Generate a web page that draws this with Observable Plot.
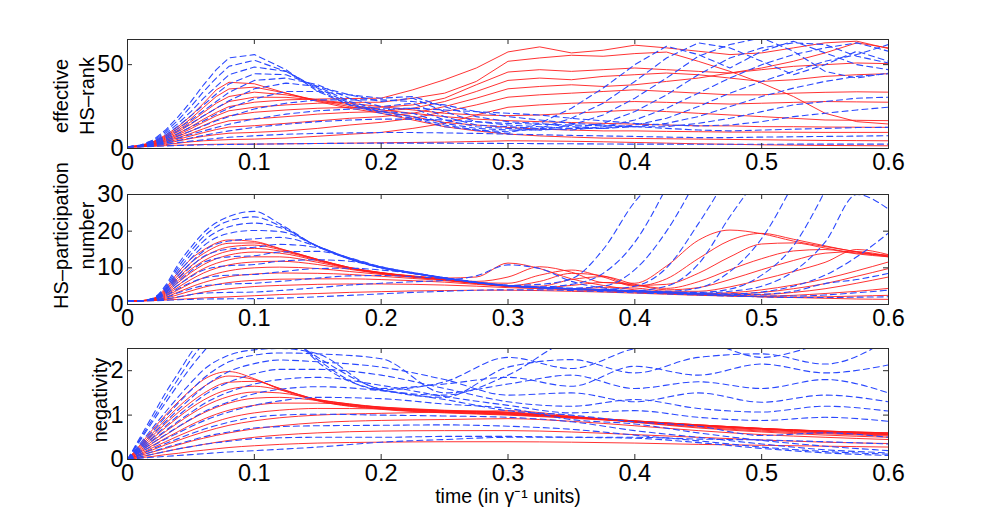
<!DOCTYPE html>
<html>
<head>
<meta charset="utf-8">
<script src="https://cdn.jsdelivr.net/npm/d3@7"></script>
<script src="https://cdn.jsdelivr.net/npm/@observablehq/plot@0.6"></script>
<style>
  body { margin: 0; background: #fff; }
  #fig { position: relative; width: 981px; height: 517px; }
  #fig > div { position: absolute; left: 0; }
  /* tick labels are drawn larger than the axis titles, as in the original */
  #fig svg g[aria-label="x-axis tick label"],
  #fig svg g[aria-label="y-axis tick label"],
  #fig svg g[aria-label="x-axis tick label"] text,
  #fig svg g[aria-label="y-axis tick label"] text { font-size: 23.5px !important; }
</style>
</head>
<body>
<div id="fig">
  <div id="rank" style="top:0px"></div>
  <div id="part" style="top:180px"></div>
  <div id="neg" style="top:340px"></div>
</div>
<script>
// time samples (in 1/gamma units) for each panel
const tRank = [0, .01, .02, .03, .04, .05, .06, .07, .08, .1, .125, .15, .175, .2, .225, .25, .275, .3, .325, .35, .375, .4, .425, .45, .475, .5, .525, .55, .575, .6];
const tPart = [0, .01, .02, .03, .04, .05, .06, .08, .1, .12, .15, .175, .2, .225, .25, .275, .3, .325, .35, .375, .4, .425, .45, .475, .5, .525, .55, .575, .6];
const tNeg = [0, .01, .02, .03, .04, .05, .06, .08, .1, .12, .15, .2, .25, .3, .35, .4, .45, .5, .55, .6];

const xTicks = [0, 0.1, 0.2, 0.3, 0.4, 0.5, 0.6];
const rankTicks = [0, 50];
const partTicks = [0, 10, 20, 30];
const negTicks = [0, 1, 2];

// effective HS-rank, solid red
const rankRed = [
  [1, 1.8, 4, 8, 13, 19.5, 27, 35, 39.5, 38.6, 33, 28, 24, 21, 17, 13, 10.5, 8.6, 7.5, 6.8, 6.2, 6, 5.8, 5.6, 5.4, 5.2, 5, 4.8, 4.7, 4.6],
  [1, 1.7, 3.8, 7.4, 12, 17.8, 24.5, 31, 35.5, 36.6, 33, 28.5, 25, 22, 19, 15.5, 14, 12.6, 11.5, 11, 10.5, 10.5, 10.2, 10, 9.8, 9.8, 9.7, 9.6, 9.6, 9.6],
  [1, 1.6, 3.5, 6.8, 11, 16, 21.5, 27, 31, 33.6, 32, 29, 26, 23, 21, 19, 17.5, 16.6, 16, 15.5, 15, 14.5, 14, 13.5, 13.5, 13, 13, 12.8, 12.7, 12.6],
  [1, 1.5, 3.2, 6.2, 10, 14.5, 19.5, 24, 28, 30.6, 30.5, 29, 27, 25, 23, 21, 20, 19.6, 20, 21, 22, 23, 22, 21, 20, 19, 18, 17, 16.8, 16.6],
  [1, 1.4, 2.9, 5.6, 9, 13, 17.5, 21.5, 25, 27.6, 29, 29.5, 29.8, 30, 35, 41, 48, 57.6, 60.6, 57, 58.6, 61.6, 60, 58, 56, 57, 60, 63, 64, 59.6],
  [1, 1.3, 2.7, 5.1, 8.2, 11.8, 15.7, 19.5, 22.5, 24.6, 26, 27, 27.5, 27.6, 30, 33, 40, 52, 54, 55.6, 55, 56.6, 57.5, 52, 46, 39, 31, 21, 16, 14.6],
  [1, 1.25, 2.5, 4.6, 7.3, 10.4, 13.8, 17, 19.5, 21.6, 23, 24, 24.5, 24.6, 26, 30, 38, 45.6, 47, 46, 47, 48, 47, 46, 45, 47, 49, 50, 51, 50.6],
  [1, 1.2, 2.3, 4.2, 6.5, 9, 11.8, 14.5, 16.5, 17.6, 19, 20.5, 21.5, 22, 24, 28, 34, 40.6, 42, 41, 43, 44, 45, 44, 42, 40, 41, 43, 44, 44.6],
  [1, 1.15, 2, 3.6, 5.5, 7.5, 9.5, 11.3, 12.8, 13.6, 15, 16.5, 18, 19, 21, 25, 30, 35.6, 37, 38, 37, 38, 40, 42, 45, 48, 52, 57, 63, 60],
  [1, 1.1, 1.8, 3, 4.5, 6, 7.3, 8.3, 9.1, 9.6, 10.5, 12, 14, 15.6, 18, 22, 26, 30.6, 32, 33, 34, 35, 34, 33, 32, 32, 33, 33.5, 33.8, 33.6],
  [1, 1.05, 1.5, 2.3, 3.2, 4, 4.6, 5, 5.3, 5.6, 6.2, 7.3, 8.5, 9.6, 12, 15, 20, 24.6, 26, 27, 27.5, 28, 27.5, 27, 26.5, 27, 27.5, 28, 27.8, 27.6],
  [1, 1.02, 1.3, 1.7, 2, 2.2, 2.4, 2.5, 2.6, 2.6, 2.8, 3, 3.2, 3.4, 3.6, 3.8, 4.2, 4.6, 4.5, 4.3, 4, 3.6, 3.2, 2.8, 2.5, 2.2, 2, 1.8, 1.7, 1.6]
];
// effective HS-rank, dashed blue
const rankBlue = [
  [1, 2, 5, 11, 19, 28, 38, 47, 54, 56, 47, 34, 26, 21, 18, 13, 11, 9, 15, 24, 36, 50, 61, 56, 48, 58, 64, 57, 50, 47],
  [1, 1.9, 4.6, 10, 17, 25, 34, 42, 49, 52.6, 46, 35, 26, 22, 19, 14, 11, 10, 12, 18, 27, 40, 54, 63, 60, 52, 44, 50, 58, 52],
  [1, 1.8, 4.2, 9, 15, 22, 30, 37, 44, 48.6, 46, 36, 27, 22, 21, 15, 12, 11, 11, 14, 20, 30, 42, 55, 62, 66, 58, 46, 42, 45],
  [1, 1.7, 3.8, 8, 13.5, 19.5, 26, 32.5, 38.5, 44.6, 44, 37, 28, 23, 24, 17, 13, 12, 11, 12, 15, 22, 32, 44, 54, 60, 63, 62, 55, 51],
  [1, 1.6, 3.5, 7, 12, 17, 22.5, 28, 33.5, 40.6, 42, 38, 30, 25, 27, 19, 14, 13, 12, 11, 13, 17, 24, 33, 42, 50, 56, 60, 63, 58],
  [1, 1.5, 3.2, 6.3, 10.5, 15, 19.5, 24, 28.5, 35.6, 39, 37, 32, 28, 30, 22, 16, 14, 13, 12, 12, 14, 18, 25, 33, 40, 46, 52, 56, 62],
  [1, 1.4, 2.9, 5.6, 9, 12.8, 16.5, 20.5, 24, 29.6, 34, 34, 32, 30, 31, 25, 19, 16, 15, 13, 12, 13, 15, 19, 25, 31, 36, 40, 43, 44.6],
  [1, 1.3, 2.6, 4.8, 7.6, 10.5, 13.5, 16.5, 19, 23.6, 27, 29, 29, 29, 28, 26, 22, 19, 17, 15, 14, 13, 13, 15, 18, 22, 26, 28, 30, 30.6],
  [1, 1.2, 2.3, 4, 6.2, 8.4, 10.5, 12.5, 14.5, 17.6, 20.5, 22.5, 23.5, 24, 24, 23, 22, 21, 20, 18, 16.5, 15, 14, 13.5, 14, 16, 19, 21, 23, 24.6],
  [1, 1.1, 2, 3.3, 4.8, 6.3, 7.8, 9.2, 10.5, 12.6, 14.5, 16, 17, 17.5, 17.5, 17, 16, 15, 14.5, 14, 13.5, 13, 12, 11, 10.5, 11, 11.5, 12, 12.5, 12.6],
  [1, 1.05, 1.6, 2.5, 3.5, 4.4, 5.2, 6, 6.7, 7.6, 8.5, 9, 9.3, 9.5, 9.5, 9.3, 9, 8.6, 8.2, 7.8, 7.5, 7.2, 6.8, 6.5, 6.5, 6.8, 7, 7.2, 7.4, 7.6],
  [1, 1.02, 1.2, 1.5, 1.8, 2, 2.2, 2.3, 2.4, 2.6, 2.8, 3, 3.1, 3.2, 3.2, 3.2, 3.1, 3, 2.9, 2.8, 2.7, 2.6, 2.6, 2.5, 2.5, 2.5, 2.6, 2.6, 2.6, 2.6]
];

// HS-participation number, solid red
const partRed = [
  [1, 1.05, 1.6, 4.5, 8.8, 12.4, 14.9, 17.6, 17.2, 15.3, 12.3, 10.1, 8.7, 7.8, 7.2, 7.5, 11.3, 9.8, 7.0, 5.2, 4.0, 3.3, 2.8, 2.4, 2.1, 1.9, 1.7, 1.5, 1.4],
  [1, 1.05, 1.55, 4.1, 8.0, 11.4, 13.9, 16.7, 16.8, 15.2, 12.3, 10.1, 8.7, 7.7, 7.0, 6.3, 7.5, 10.3, 8.8, 6.0, 5.8, 10.5, 17.5, 20.3, 19.3, 17.3, 15.8, 14.4, 13.2],
  [1, 1.05, 1.5, 3.8, 7.3, 10.5, 12.9, 15.7, 16.2, 15.0, 12.2, 10.0, 8.6, 7.7, 6.9, 6.0, 5.8, 8.0, 9.4, 7.5, 5.0, 7.0, 12.5, 17.5, 19.4, 17.8, 16.0, 14.3, 13.0],
  [1, 1.04, 1.45, 3.5, 6.6, 9.6, 11.9, 14.6, 15.3, 14.6, 12.1, 10.0, 8.6, 7.6, 6.8, 5.9, 5.1, 6.3, 8.5, 7.8, 5.2, 5.5, 8.5, 13.0, 16.5, 16.8, 15.4, 14.0, 13.5],
  [1, 1.04, 1.4, 3.2, 6.0, 8.7, 10.9, 13.5, 14.3, 14.0, 11.9, 9.9, 8.5, 7.6, 6.8, 5.9, 5.0, 5.0, 6.8, 7.6, 5.5, 4.4, 6.2, 9.5, 12.5, 14.6, 15.0, 13.8, 13.0],
  [1, 1.03, 1.35, 2.9, 5.3, 7.8, 9.8, 12.2, 13.0, 13.0, 11.5, 9.8, 8.5, 7.6, 6.8, 5.9, 5.0, 4.6, 5.2, 6.0, 5.3, 4.0, 4.6, 6.8, 9.5, 12.0, 14.0, 14.4, 13.2],
  [1, 1.03, 1.3, 2.6, 4.7, 6.8, 8.6, 10.8, 11.6, 11.8, 10.9, 9.6, 8.4, 7.5, 6.7, 5.8, 5.0, 4.6, 4.3, 4.6, 4.5, 3.6, 3.6, 4.8, 6.8, 9.0, 11.5, 15.0, 13.6],
  [1, 1.02, 1.25, 2.3, 4.0, 5.8, 7.3, 9.2, 10.0, 10.2, 9.8, 9.0, 8.2, 7.4, 6.7, 5.8, 5.0, 4.6, 4.3, 4.0, 3.6, 3.3, 3.0, 3.2, 4.0, 5.3, 7.0, 9.2, 11.6],
  [1, 1.02, 1.2, 2.0, 3.4, 4.8, 6.0, 7.6, 8.3, 8.6, 8.5, 8.2, 7.7, 7.1, 6.5, 5.7, 5.0, 4.5, 4.2, 3.9, 3.5, 3.2, 2.9, 2.9, 3.3, 4.3, 5.7, 7.7, 9.8],
  [1, 1.02, 1.15, 1.7, 2.7, 3.7, 4.7, 6.0, 6.6, 6.9, 7.0, 7.0, 6.8, 6.5, 6.1, 5.5, 4.9, 4.5, 4.2, 3.9, 3.5, 3.1, 2.8, 2.6, 2.7, 3.3, 4.3, 5.8, 7.5],
  [1, 1.01, 1.1, 1.4, 2.0, 2.7, 3.4, 4.3, 4.9, 5.2, 5.5, 5.6, 5.6, 5.5, 5.3, 5.0, 4.6, 4.3, 4.0, 3.7, 3.4, 3.0, 2.7, 2.4, 2.3, 2.5, 3.0, 3.6, 4.4],
  [1, 1.0, 1.05, 1.2, 1.4, 1.6, 1.8, 2.1, 2.4, 2.7, 3.0, 3.3, 3.5, 3.7, 3.8, 3.9, 3.9, 3.8, 3.6, 3.4, 3.1, 2.8, 2.5, 2.3, 2.1, 2.0, 2.1, 2.3, 2.5]
];
// HS-participation number, dashed blue (null = gone off the top)
const partBlue = [
  [1, 1.05, 1.7, 5.2, 11.0, 15.6, 19.6, 24.0, 25.4, 22.0, 15.8, 12.4, 10.0, 8.5, 7.2, 6.0, 5.2, 5.5, 7.0, 15.0, 28.0, 36, null, null, null, null, null, null, null],
  [1, 1.05, 1.65, 4.8, 10.2, 14.6, 18.5, 22.8, 23.9, 21.5, 15.8, 12.4, 10.0, 8.5, 7.2, 6.0, 5.1, 4.8, 5.5, 8.5, 17.0, 32, null, null, null, null, null, null, null],
  [1, 1.05, 1.6, 4.4, 9.4, 13.6, 17.3, 21.2, 22.2, 21.0, 15.9, 12.5, 10.0, 8.5, 7.2, 6.0, 5.1, 4.7, 4.5, 5.0, 9.5, 20, 35, null, null, null, null, null, null],
  [1, 1.04, 1.55, 4.0, 8.6, 12.5, 16.0, 19.4, 20.2, 19.9, 15.9, 12.5, 10.0, 8.5, 7.2, 6.0, 5.1, 4.7, 4.3, 4.1, 5.0, 10.0, 22, 36, null, null, null, null, null],
  [1, 1.04, 1.5, 3.7, 7.8, 11.4, 14.6, 17.3, 17.9, 18.3, 15.8, 12.6, 10.1, 8.5, 7.2, 6.0, 5.1, 4.6, 4.3, 4.0, 3.8, 5.0, 11.0, 24, 36, null, null, null, null],
  [1, 1.03, 1.45, 3.4, 7.0, 10.3, 13.1, 15.1, 15.6, 16.4, 15.5, 12.7, 10.2, 8.6, 7.2, 6.0, 5.1, 4.6, 4.3, 4.0, 3.7, 3.6, 4.5, 9.0, 18, 33, null, null, null],
  [1, 1.03, 1.4, 3.1, 6.2, 9.1, 11.5, 13.0, 13.3, 14.3, 14.5, 12.7, 10.3, 8.7, 7.3, 6.1, 5.1, 4.6, 4.3, 4.0, 3.7, 3.4, 3.3, 4.2, 8.0, 16, 31, null, null],
  [1, 1.02, 1.35, 2.8, 5.3, 7.6, 9.4, 10.6, 10.9, 11.8, 12.2, 11.8, 10.2, 8.7, 7.3, 6.1, 5.2, 4.6, 4.3, 4.0, 3.7, 3.4, 3.1, 3.6, 5.0, 9.0, 17.0, 30, 26],
  [1, 1.02, 1.3, 2.4, 4.3, 6.0, 7.2, 8.0, 8.2, 8.9, 9.8, 9.9, 9.4, 8.5, 7.3, 6.1, 5.2, 4.6, 4.2, 3.9, 3.6, 3.3, 3.0, 2.9, 3.4, 5.0, 8.0, 13.0, 19.5],
  [1, 1.01, 1.2, 1.9, 3.2, 4.3, 5.1, 5.6, 5.8, 6.3, 7.2, 7.8, 7.9, 7.6, 7.0, 6.0, 5.2, 4.6, 4.2, 3.8, 3.5, 3.2, 2.9, 2.7, 2.8, 3.6, 5.7, 6.8, 8.5],
  [1, 1.01, 1.1, 1.5, 2.1, 2.7, 3.1, 3.3, 3.4, 3.8, 4.6, 5.3, 5.8, 6.2, 6.6, 7.8, 10.8, 9.8, 6.3, 4.5, 3.6, 3.2, 2.8, 2.5, 2.3, 2.3, 2.6, 3.2, 3.9],
  [1, 1.0, 1.03, 1.15, 1.3, 1.4, 1.5, 1.55, 1.6, 1.75, 2.1, 2.5, 2.9, 3.3, 3.6, 3.9, 4.0, 4.0, 3.8, 3.5, 3.2, 2.9, 2.6, 2.3, 2.1, 1.9, 1.9, 2.0, 2.1]
];

// negativity, solid red
const negRed = [
  [0, .33, .68, 1.0, 1.3, 1.57, 1.8, 1.98, 1.82, 1.58, 1.32, 1.13, 1.05, 1.0, .93, .85, .77, .69, .64, .6],
  [0, .3, .6, .9, 1.18, 1.43, 1.64, 1.88, 1.8, 1.6, 1.33, 1.14, 1.06, 1.01, .94, .86, .78, .7, .64, .6],
  [0, .27, .54, .81, 1.06, 1.29, 1.49, 1.74, 1.76, 1.6, 1.34, 1.15, 1.07, 1.02, .95, .87, .78, .7, .64, .59],
  [0, .24, .48, .72, .95, 1.16, 1.34, 1.58, 1.65, 1.57, 1.35, 1.16, 1.08, 1.03, .96, .87, .78, .7, .63, .58],
  [0, .21, .42, .63, .83, 1.02, 1.19, 1.42, 1.52, 1.5, 1.35, 1.17, 1.09, 1.04, .96, .87, .77, .69, .62, .57],
  [0, .18, .37, .55, .73, .9, 1.05, 1.27, 1.38, 1.4, 1.33, 1.18, 1.1, 1.05, .96, .86, .76, .68, .61, .56],
  [0, .16, .32, .48, .63, .78, .91, 1.11, 1.22, 1.27, 1.27, 1.18, 1.11, 1.06, .96, .85, .75, .66, .6, .55],
  [0, .13, .27, .4, .53, .65, .76, .94, 1.05, 1.11, 1.15, 1.14, 1.1, 1.07, .96, .84, .73, .64, .58, .53],
  [0, .11, .22, .33, .43, .53, .62, .77, .87, .94, 1.0, 1.04, 1.07, 1.1, .98, .84, .71, .62, .55, .5],
  [0, .09, .17, .25, .33, .41, .48, .6, .69, .76, .83, .88, .9, .92, .86, .76, .65, .56, .5, .45],
  [0, .06, .12, .18, .24, .29, .34, .43, .5, .55, .6, .64, .65, .65, .62, .56, .5, .44, .39, .36],
  [0, .04, .07, .11, .14, .18, .21, .27, .31, .34, .37, .39, .4, .4, .39, .37, .34, .32, .3, .28]
];
// negativity, dashed blue
const negBlue = [
  [0, .5, 1.0, 1.5, 1.95, 2.4, 2.8, 3.4, 3.6, 3.1, 2.2, 1.56, 1.45, 1.9, 2.7, 2.9, 3.0, 3.1, 3.2, 3.3],
  [0, .46, .92, 1.38, 1.82, 2.25, 2.62, 3.2, 3.35, 3.0, 2.25, 1.57, 1.75, 2.3, 2.05, 2.5, 2.65, 2.3, 2.6, 2.8],
  [0, .43, .86, 1.28, 1.69, 2.08, 2.43, 2.95, 3.0, 2.85, 2.3, 1.58, 1.4, 2.08, 2.25, 1.95, 2.3, 2.38, 2.15, 2.7],
  [0, .36, .72, 1.07, 1.41, 1.73, 2.02, 2.35, 2.47, 2.5, 2.38, 1.6, 1.7, 1.85, 1.65, 2.1, 1.9, 2.15, 1.95, 2.13],
  [0, .32, .64, .96, 1.27, 1.56, 1.83, 2.2, 2.35, 2.4, 2.38, 2.27, 1.5, 1.7, 1.9, 1.6, 1.75, 1.6, 1.8, 1.5],
  [0, .28, .57, .85, 1.12, 1.38, 1.63, 1.98, 2.16, 2.24, 2.2, 2.08, 1.8, 1.45, 1.5, 1.3, 1.5, 1.29, 1.45, 1.3],
  [0, .25, .5, .75, .99, 1.22, 1.44, 1.74, 1.93, 2.03, 2.03, 1.9, 1.6, 1.3, 1.2, 1.35, 1.15, 1.07, 1.2, 1.09],
  [0, .22, .44, .65, .86, 1.06, 1.25, 1.52, 1.7, 1.8, 1.85, 1.67, 1.42, 1.22, 1.05, 1.1, .95, .88, .95, .86],
  [0, .19, .38, .56, .74, .91, 1.07, 1.3, 1.48, 1.58, 1.64, 1.55, 1.35, 1.1, 1.0, .85, .75, .54, .6, .5],
  [0, .16, .31, .46, .6, .74, .87, 1.07, 1.22, 1.32, 1.4, 1.37, 1.25, 1.15, .9, .8, .6, .43, .3, .2],
  [0, .12, .24, .36, .47, .58, .68, .84, .95, 1.0, 1.02, 1.0, .98, .95, .85, .65, .5, .35, .22, .15],
  [0, .09, .18, .27, .35, .43, .51, .62, .71, .74, .76, .77, .78, .75, .68, .55, .42, .28, .18, .12],
  [0, .06, .12, .18, .24, .29, .34, .41, .47, .49, .5, .5, .52, .52, .5, .48, .38, .25, .15, .09],
  [0, .03, .05, .07, .09, .11, .13, .17, .2, .23, .28, .39, .45, .5, .5, .5, .46, .44, .4, .35]
];

const W = 981, ML = 127, MR = 93;
const RED = "#ff1c1c", BLUE = "#2a48ff", INK = "#2b2b2b";
const FONT = "'Liberation Sans', Arial, Helvetica, sans-serif";

// one row per sample, z = curve id
const toRows = (T, curves, kind) => curves.flatMap((c, i) => c.map((v, j) => ({t: T[j], v, id: kind + i})));

panel = ({height, marginTop, marginBottom, yDomain, yTicks, T, red, blue, curve, label, labelDx, labelDy, extra = []}) => {
  const ih = height - marginTop - marginBottom; // inner height
  const iw = W - ML - MR;
  return Plot.plot({
    width: W, height, marginTop, marginBottom, marginLeft: ML, marginRight: MR,
    style: {fontFamily: FONT, fontSize: "20px", color: "#000", background: "#fff", overflow: "visible"},
    x: {domain: [0, 0.6], label: null},
    y: {domain: yDomain, label: null},
    marks: [
      Plot.line(toRows(T, red, "r"), {x: "t", y: "v", z: "id", stroke: RED, strokeWidth: 0.9, curve, clip: true}),
      Plot.line(toRows(T, blue, "b"), {x: "t", y: "v", z: "id", stroke: BLUE, strokeWidth: 1.1, strokeDasharray: "6,4", curve, clip: true}),
      Plot.frame({stroke: INK}),
      // MATLAB-style inward ticks on all four sides
      Plot.tickX(xTicks, {x: d => d, insetTop: ih - 5, stroke: INK}),
      Plot.tickX(xTicks, {x: d => d, insetBottom: ih - 5, stroke: INK}),
      Plot.tickY(yTicks, {y: d => d, insetRight: iw - 5, stroke: INK}),
      Plot.tickY(yTicks, {y: d => d, insetLeft: iw - 5, stroke: INK}),
      Plot.axisX(xTicks, {tickSize: 0, tickPadding: 5, tickFormat: d => String(d), label: null, fill: "#000"}),
      Plot.axisY(yTicks, {tickSize: 0, tickPadding: 4, label: null, fill: "#000"}),
      Plot.text([label], {frameAnchor: "left", textAnchor: "middle", lineAnchor: "middle", rotate: -90, dx: labelDx, dy: labelDy, fontSize: 20, lineHeight: 1.3, fill: "#000"}),
      ...extra
    ]
  });
};

document.getElementById("rank").append(panel({
  height: 180, marginTop: 39, marginBottom: 32, yDomain: [0, 65], yTicks: rankTicks,
  T: tRank, red: rankRed, blue: rankBlue, curve: "linear",
  label: "effective\nHS–rank", labelDx: -55, labelDy: 2
}));

document.getElementById("part").append(panel({
  height: 160, marginTop: 14, marginBottom: 36, yDomain: [0, 30], yTicks: partTicks,
  T: tPart, red: partRed, blue: partBlue, curve: "monotone-x",
  label: "HS–participation\nnumber", labelDx: -55, labelDy: -14
}));

document.getElementById("neg").append(panel({
  height: 177, marginTop: 8, marginBottom: 58, yDomain: [0, 2.5], yTicks: negTicks,
  T: tNeg, red: negRed, blue: negBlue, curve: "monotone-x",
  label: "negativity", labelDx: -29, labelDy: -4,
  extra: [Plot.text(["time (in γ⁻¹ units)"], {frameAnchor: "bottom", textAnchor: "middle", dy: 43, fontSize: 19.5, fill: "#000"})]
}));
</script>
</body>
</html>
